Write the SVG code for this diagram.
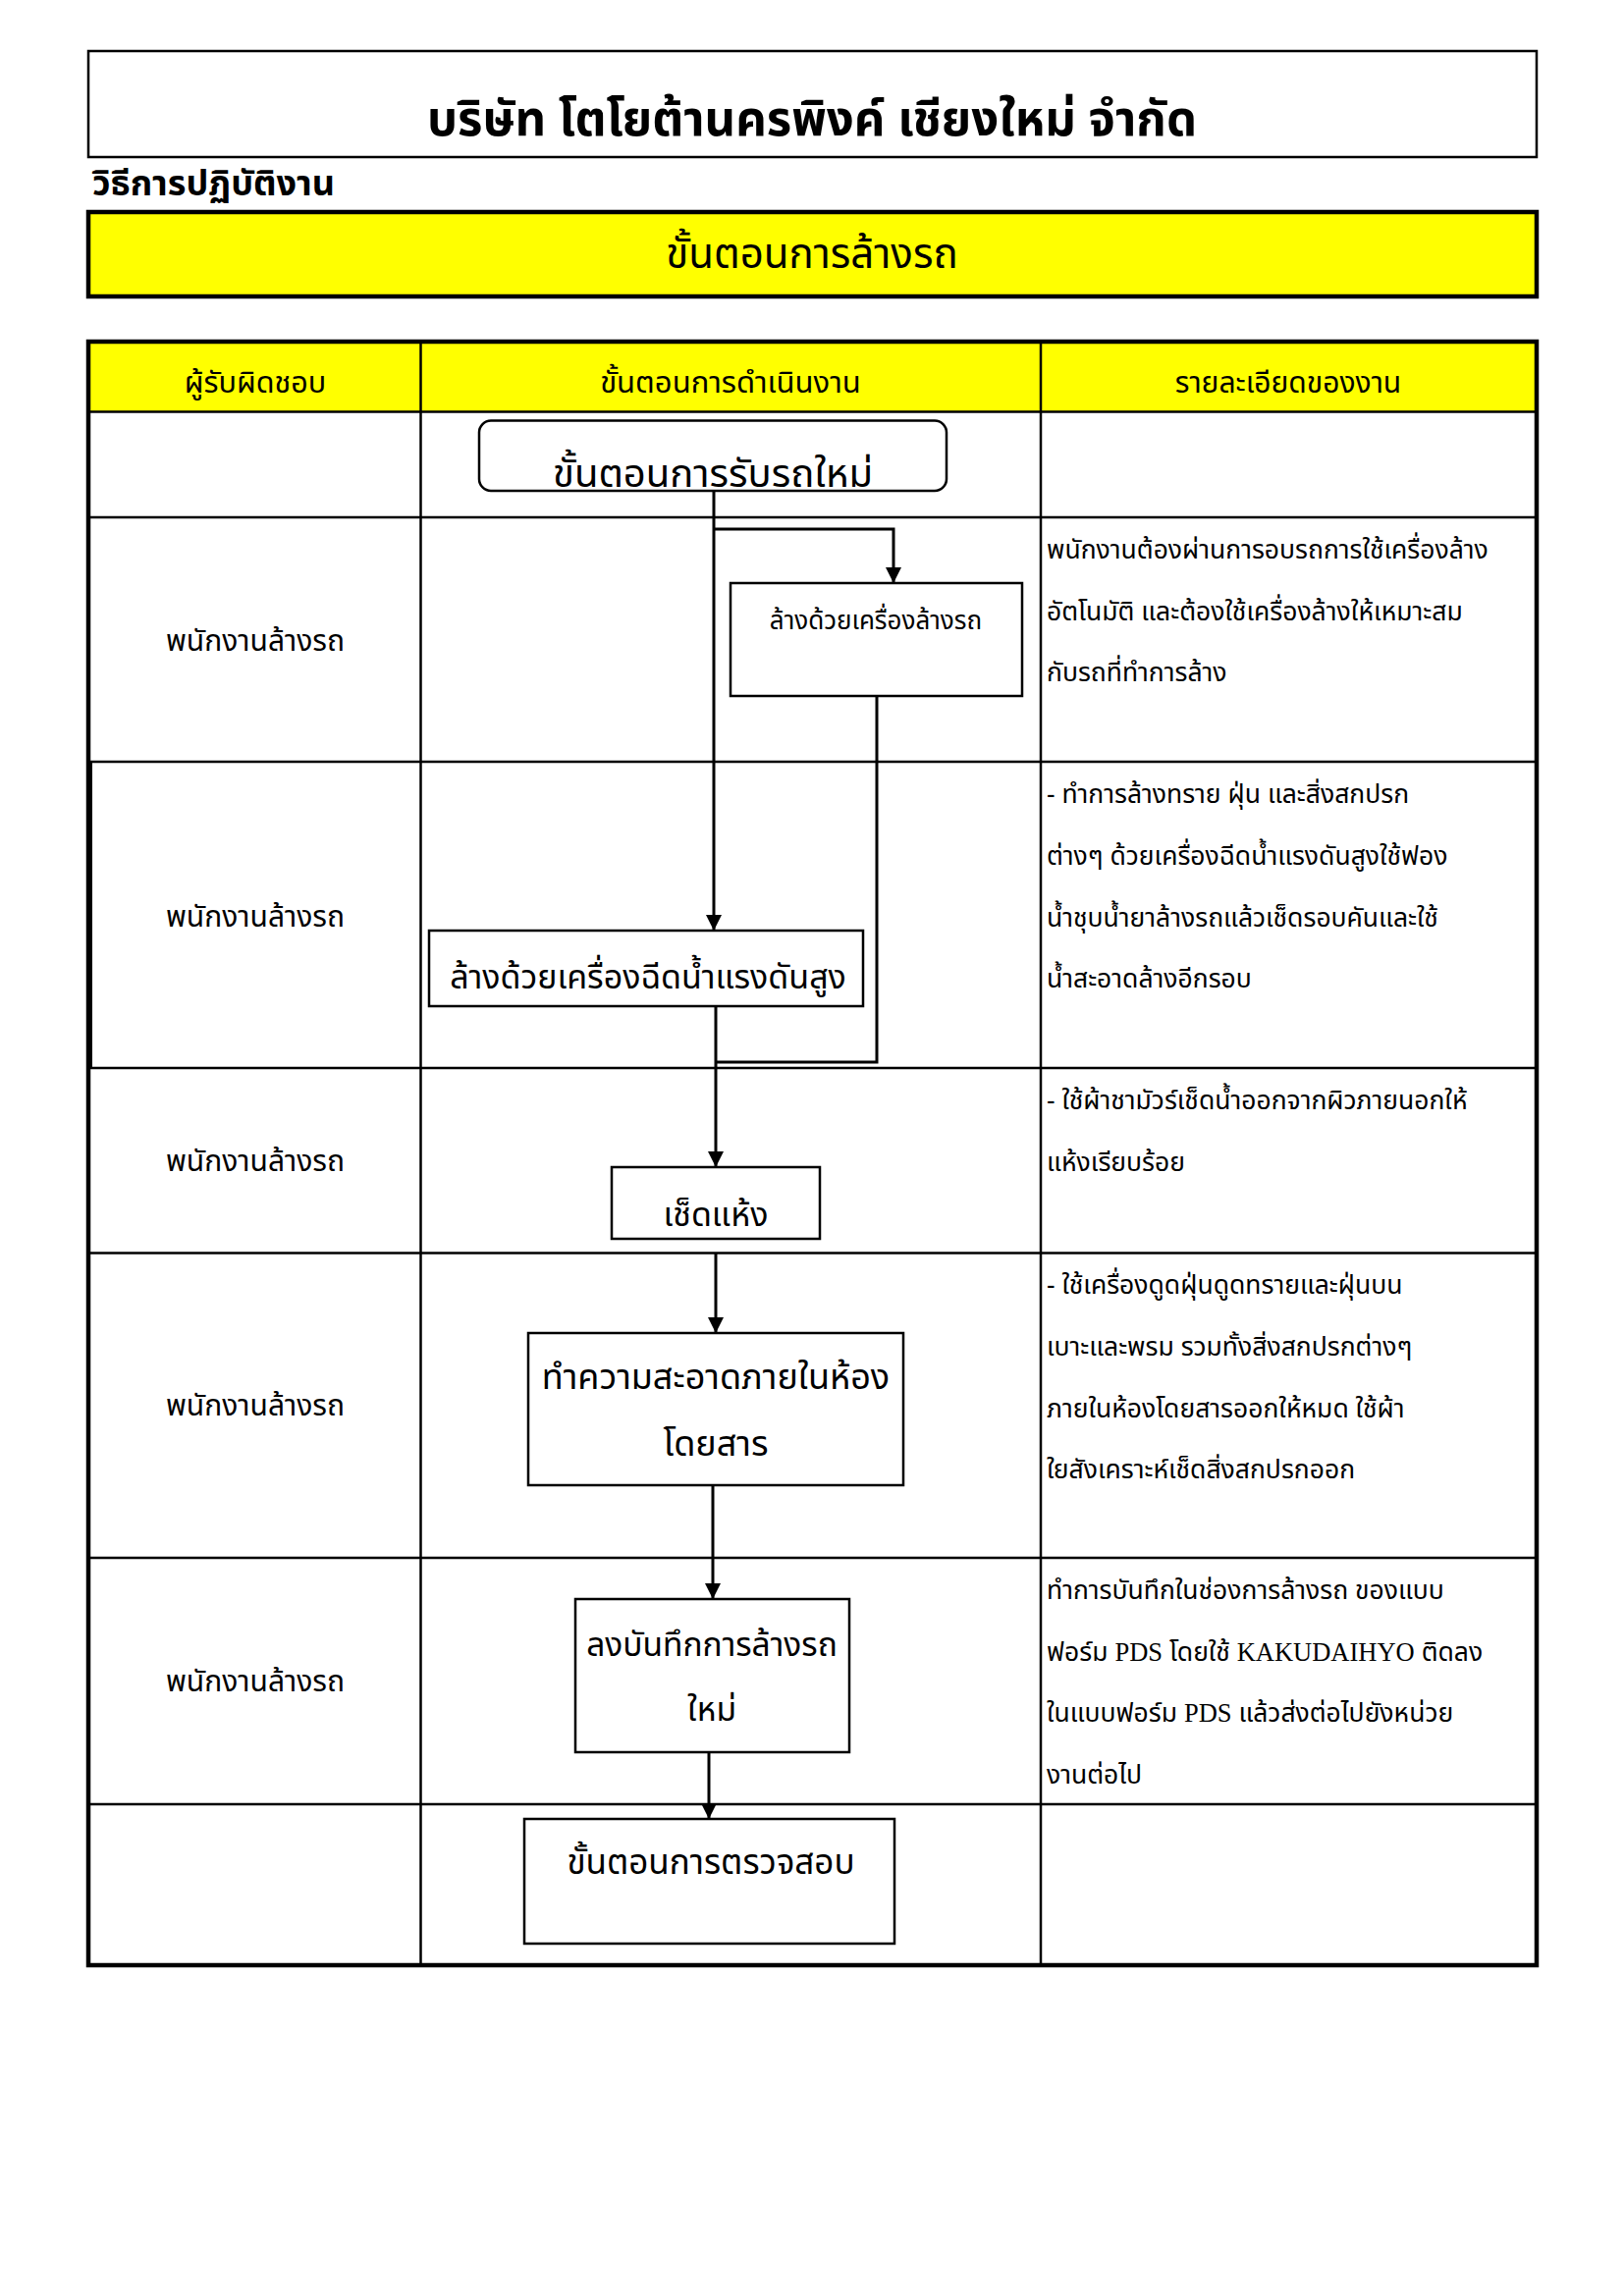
<svg xmlns="http://www.w3.org/2000/svg" width="1654" height="2339" viewBox="0 0 1654 2339">
<style>
.t{font-family:"Noto Sans Thai","Noto Serif Thai","Liberation Serif","DejaVu Sans",serif;fill:#000}
.c{text-anchor:middle}
.b{font-weight:bold}
.box{fill:#fff;stroke:#000;stroke-width:2.5}
.ln{stroke:#000;stroke-width:2.5;fill:none}
.con{stroke:#000;stroke-width:3;fill:none}
.lat{font-family:"Liberation Serif",serif}
</style>
<defs>
<marker id="arr" viewBox="0 0 10 10" refX="10" refY="5" markerWidth="16" markerHeight="16" markerUnits="userSpaceOnUse" orient="auto">
<path d="M0,0 L10,5 L0,10 z" fill="#000"/>
</marker>
</defs>
<rect width="1654" height="2339" fill="#fff"/>
<g id="header">
<rect x="90" y="52" width="1475" height="108" fill="#fff" stroke="#000" stroke-width="2.5"/>
<text class="t c b" x="827" y="138" font-size="49">บริษัท โตโยต้านครพิงค์ เชียงใหม่ จำกัด</text>
<text class="t b" x="94" y="199" font-size="36">วิธีการปฏิบัติงาน</text>
<rect x="90" y="216" width="1475" height="86" fill="#ffff00" stroke="#000" stroke-width="4.5"/>
<text class="t c" x="827" y="273" font-size="42">ขั้นตอนการล้างรถ</text>
</g>
<g id="table">
<rect x="90" y="348" width="1475" height="71" fill="#ffff00"/>
<line class="ln" x1="90" y1="419.5" x2="1565" y2="419.5"/>
<line class="ln" x1="90" y1="527" x2="1565" y2="527" stroke-width="3.5"/>
<line class="ln" x1="90" y1="776" x2="1565" y2="776" stroke-width="3"/>
<line class="ln" x1="90" y1="1088" x2="1565" y2="1088" stroke-width="3"/>
<line class="ln" x1="90" y1="1276.5" x2="1565" y2="1276.5" stroke-width="3"/>
<line class="ln" x1="90" y1="1587" x2="1565" y2="1587"/>
<line class="ln" x1="90" y1="1838" x2="1565" y2="1838" stroke-width="3"/>
<line class="ln" x1="428.5" y1="348" x2="428.5" y2="2002"/>
<line class="ln" x1="1060" y1="348" x2="1060" y2="2002"/>
<rect x="90" y="348" width="1475" height="1654" fill="none" stroke="#000" stroke-width="4.5"/>
<line x1="91" y1="776" x2="91" y2="1088" stroke="#000" stroke-width="6"/>
<text class="t c" x="260" y="400" font-size="30.5">ผู้รับผิดชอบ</text>
<text class="t c" x="744" y="400" font-size="31">ขั้นตอนการดำเนินงาน</text>
<text class="t c" x="1312" y="400" font-size="30">รายละเอียดของงาน</text>
<text class="t c" x="260" y="663" font-size="30">พนักงานล้างรถ</text>
<text class="t c" x="260" y="944" font-size="30">พนักงานล้างรถ</text>
<text class="t c" x="260" y="1193" font-size="30">พนักงานล้างรถ</text>
<text class="t c" x="260" y="1442" font-size="30">พนักงานล้างรถ</text>
<text class="t c" x="260" y="1723" font-size="30">พนักงานล้างรถ</text>
<g font-size="26.5">
<text class="t" x="1066" y="569">พนักงานต้องผ่านการอบรถการใช้เครื่องล้าง</text>
<text class="t" x="1066" y="632">อัตโนมัติ และต้องใช้เครื่องล้างให้เหมาะสม</text>
<text class="t" x="1066" y="694">กับรถที่ทำการล้าง</text>
<text class="t" x="1066" y="818"> - ทำการล้างทราย ฝุ่น และสิ่งสกปรก</text>
<text class="t" x="1066" y="881">ต่างๆ ด้วยเครื่องฉีดน้ำแรงดันสูงใช้ฟอง</text>
<text class="t" x="1066" y="944">น้ำชุบน้ำยาล้างรถแล้วเช็ดรอบคันและใช้</text>
<text class="t" x="1066" y="1006">น้ำสะอาดล้างอีกรอบ</text>
<text class="t" x="1066" y="1130"> - ใช้ผ้าชามัวร์เช็ดน้ำออกจากผิวภายนอกให้</text>
<text class="t" x="1066" y="1193">แห้งเรียบร้อย</text>
<text class="t" x="1066" y="1318"> - ใช้เครื่องดูดฝุ่นดูดทรายและฝุ่นบน</text>
<text class="t" x="1066" y="1381">เบาะและพรม รวมทั้งสิ่งสกปรกต่างๆ</text>
<text class="t" x="1066" y="1444">ภายในห้องโดยสารออกให้หมด ใช้ผ้า</text>
<text class="t" x="1066" y="1506">ใยสังเคราะห์เช็ดสิ่งสกปรกออก</text>
<text class="t" x="1066" y="1629">ทำการบันทึกในช่องการล้างรถ ของแบบ</text>
<text class="t" x="1066" y="1692">ฟอร์ม <tspan class="lat">PDS</tspan> โดยใช้ <tspan class="lat">KAKUDAIHYO</tspan> ติดลง</text>
<text class="t" x="1066" y="1754">ในแบบฟอร์ม <tspan class="lat">PDS</tspan> แล้วส่งต่อไปยังหน่วย</text>
<text class="t" x="1066" y="1817">งานต่อไป</text>
</g>
</g>
<g id="connectors">
<path class="con" d="M727,500 L727,948" marker-end="url(#arr)"/>
<path class="con" d="M727,539 L910,539 L910,594" marker-end="url(#arr)"/>
<path class="con" d="M893,709 L893,1082 L729,1082"/>
<path class="con" d="M729,1025 L729,1189" marker-end="url(#arr)"/>
<path class="con" d="M729,1277 L729,1358" marker-end="url(#arr)"/>
<path class="con" d="M726,1513 L726,1629" marker-end="url(#arr)"/>
<path class="con" d="M722,1785 L722,1853" marker-end="url(#arr)"/>
</g>
<g id="n1">
<rect class="box" x="488" y="428.5" width="476" height="71.5" rx="12"/>
<text class="t c" x="726" y="496" font-size="40">ขั้นตอนการรับรถใหม่</text>
</g>
<g id="n2">
<rect class="box" x="744" y="594" width="297" height="115"/>
<text class="t c" x="892" y="641" font-size="26">ล้างด้วยเครื่องล้างรถ</text>
</g>
<g id="n3">
<rect class="box" x="437" y="948" width="442" height="77"/>
<text class="t c" x="660" y="1007" font-size="34">ล้างด้วยเครื่องฉีดน้ำแรงดันสูง</text>
</g>
<g id="n4">
<rect class="box" x="623" y="1189" width="212" height="73"/>
<text class="t c" x="729" y="1249" font-size="34">เช็ดแห้ง</text>
</g>
<g id="n5">
<rect class="box" x="538" y="1358" width="382" height="155"/>
<text class="t c" x="729" y="1415" font-size="36">ทำความสะอาดภายในห้อง</text>
<text class="t c" x="729" y="1483" font-size="36">โดยสาร</text>
</g>
<g id="n6">
<rect class="box" x="586" y="1629" width="279" height="156"/>
<text class="t c" x="725" y="1687" font-size="33.5">ลงบันทึกการล้างรถ</text>
<text class="t c" x="725" y="1753" font-size="33.5">ใหม่</text>
</g>
<g id="n7">
<rect class="box" x="534" y="1853" width="377" height="127"/>
<text class="t c" x="724" y="1909" font-size="35">ขั้นตอนการตรวจสอบ</text>
</g>
</svg>
